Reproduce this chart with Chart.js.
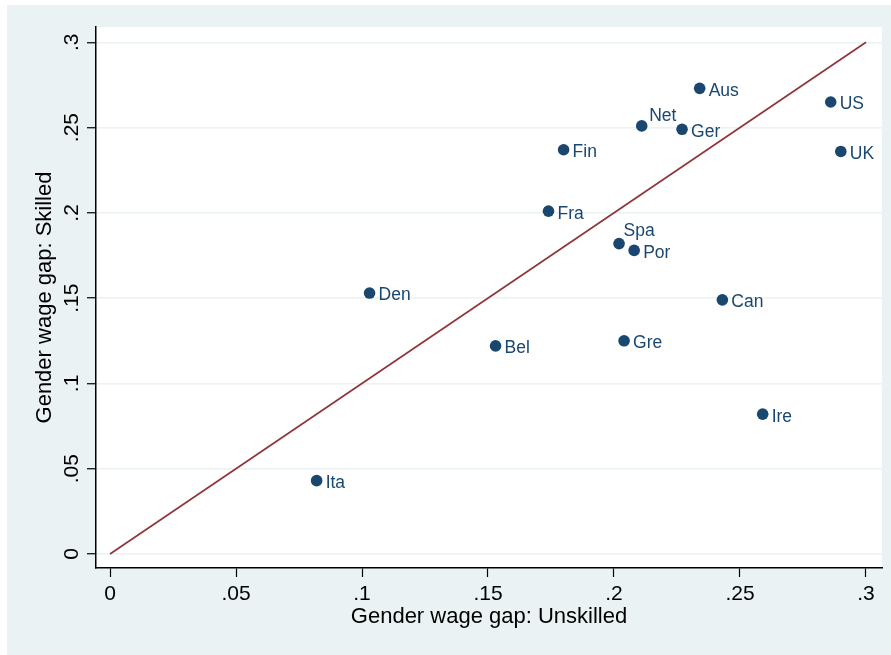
<!DOCTYPE html>
<html>
<head>
<meta charset="utf-8">
<title>Gender wage gap: skilled vs unskilled</title>
<script src="https://cdn.jsdelivr.net/npm/chart.js@4/dist/chart.umd.min.js"></script>
<style>
  html, body { margin: 0; padding: 0; background: #ffffff; }
  #wrap { width: 891px; height: 655px; position: relative; }
</style>
</head>
<body>
<div id="wrap"><canvas id="chart" width="891" height="655"></canvas></div>
<script>
// Country codes and the gender wage gap for unskilled (x) and skilled (y) workers
const countries    = ['Aus', 'Net', 'Ger', 'US', 'UK', 'Fin', 'Fra', 'Spa', 'Por', 'Den', 'Bel', 'Gre', 'Can', 'Ire', 'Ita'];
const gapUnskilled = [0.234, 0.211, 0.227, 0.286, 0.290, 0.180, 0.174, 0.202, 0.208, 0.103, 0.153, 0.204, 0.243, 0.259, 0.082];
const gapSkilled   = [0.273, 0.251, 0.249, 0.265, 0.236, 0.237, 0.201, 0.182, 0.178, 0.153, 0.122, 0.125, 0.149, 0.082, 0.043];

// 45-degree reference line end points
const diagonal = [0, 0.3];

// Tick values shared by both axes
const axisTicks = [0, 0.05, 0.1, 0.15, 0.2, 0.25, 0.3];

// Clock position of each marker label (3 = right, 2 = upper right, 1 = above right)
const labelClock = [3, 2, 3, 3, 3, 3, 3, 1, 3, 3, 3, 3, 3, 3, 3];

const FONT = "'Liberation Sans', Arial, Helvetica, sans-serif";
const NAVY = '#1a476f';
const MAROON = '#90353b';
const BLUISH = '#eaf2f3';

function fmtTick(v) {
  const s = String(Number(v.toFixed(3)));
  return s.replace(/^0\./, '.');
}

const points = countries.map((c, i) => ({ x: gapUnskilled[i], y: gapSkilled[i] }));

const backgroundPlugin = {
  id: 'stataBackground',
  beforeDraw(chart) {
    const { ctx, chartArea: a } = chart;
    ctx.save();
    ctx.fillStyle = '#ffffff';
    ctx.fillRect(0, 0, chart.width, chart.height);
    ctx.fillStyle = BLUISH;
    ctx.fillRect(7, 5, chart.width - 7, chart.height - 5);
    ctx.fillStyle = '#ffffff';
    ctx.fillRect(a.left, a.top, a.right - a.left, a.bottom - a.top);
    ctx.restore();
  }
};

// Vertical y tick labels, reading bottom to top
const yTickLabelPlugin = {
  id: 'yTickLabels',
  afterDraw(chart) {
    const { ctx } = chart;
    const sc = chart.scales.y;
    ctx.save();
    ctx.font = '21px ' + FONT;
    ctx.fillStyle = '#000000';
    ctx.textAlign = 'center';
    ctx.textBaseline = 'alphabetic';
    sc.ticks.forEach(t => {
      const py = sc.getPixelForValue(t.value);
      ctx.save();
      ctx.translate(77.5, py);
      ctx.rotate(-Math.PI / 2);
      ctx.fillText(fmtTick(t.value), 0, 0);
      ctx.restore();
    });
    ctx.restore();
  }
};

// Country labels next to markers
const markerLabelPlugin = {
  id: 'markerLabels',
  afterDatasetsDraw(chart) {
    const { ctx } = chart;
    const meta = chart.getDatasetMeta(0);
    ctx.save();
    ctx.font = '17.5px ' + FONT;
    ctx.fillStyle = NAVY;
    ctx.textAlign = 'left';
    ctx.textBaseline = 'alphabetic';
    meta.data.forEach((el, i) => {
      const pos = labelClock[i];
      let dx = 9, dy = 7.4;
      if (pos === 2) { dx = 7.5; dy = -4.8; }
      else if (pos === 1) { dx = 4.5; dy = -7.9; }
      ctx.fillText(countries[i], el.x + dx, el.y + dy);
    });
    ctx.restore();
  }
};

new Chart(document.getElementById('chart'), {
  type: 'scatter',
  data: {
    datasets: [
      {
        label: 'Countries',
        data: points,
        pointRadius: 5.8,
        pointHoverRadius: 5.8,
        pointBackgroundColor: NAVY,
        pointBorderWidth: 0,
        order: 2
      },
      {
        type: 'line',
        label: '45 degree line',
        data: diagonal.map(v => ({ x: v, y: v })),
        borderColor: MAROON,
        borderWidth: 1.7,
        pointRadius: 0,
        fill: false,
        order: 1
      }
    ]
  },
  options: {
    responsive: false,
    animation: false,
    devicePixelRatio: 1,
    events: [],
    layout: { padding: { left: 0, top: 27, right: 9, bottom: 0 } },
    plugins: {
      legend: { display: false },
      tooltip: { enabled: false }
    },
    scales: {
      x: {
        type: 'linear',
        min: -0.005556,
        max: 0.30635,
        afterBuildTicks: s => { s.ticks = axisTicks.map(v => ({ value: v })); },
        afterFit: s => { s.height = 87; },
        grid: {
          drawOnChartArea: false,
          drawTicks: true,
          tickLength: 9,
          tickColor: '#000000',
          tickWidth: 1.2
        },
        border: { display: true, color: '#000000', width: 1.5 },
        ticks: {
          autoSkip: false,
          maxRotation: 0,
          minRotation: 0,
          padding: 5,
          color: '#000000',
          font: { family: FONT, size: 21 },
          callback: v => fmtTick(v)
        },
        title: {
          display: true,
          text: 'Gender wage gap: Unskilled',
          color: '#000000',
          font: { family: FONT, size: 22 },
          padding: { top: 0, bottom: 25 }
        }
      },
      y: {
        type: 'linear',
        min: -0.00821,
        max: 0.30898,
        afterBuildTicks: s => { s.ticks = axisTicks.map(v => ({ value: v })); },
        afterFit: s => { s.width = 96; },
        grid: {
          color: BLUISH,
          lineWidth: 1.5,
          drawTicks: true,
          tickLength: 9,
          tickColor: '#000000',
          tickWidth: 1.2
        },
        border: { display: true, color: '#000000', width: 1.5 },
        ticks: { display: false },
        title: {
          display: true,
          text: 'Gender wage gap: Skilled',
          color: '#000000',
          font: { family: FONT, size: 22 },
          padding: { top: 31.5, bottom: 0 }
        }
      }
    }
  },
  plugins: [backgroundPlugin, yTickLabelPlugin, markerLabelPlugin]
});
</script>
</body>
</html>
